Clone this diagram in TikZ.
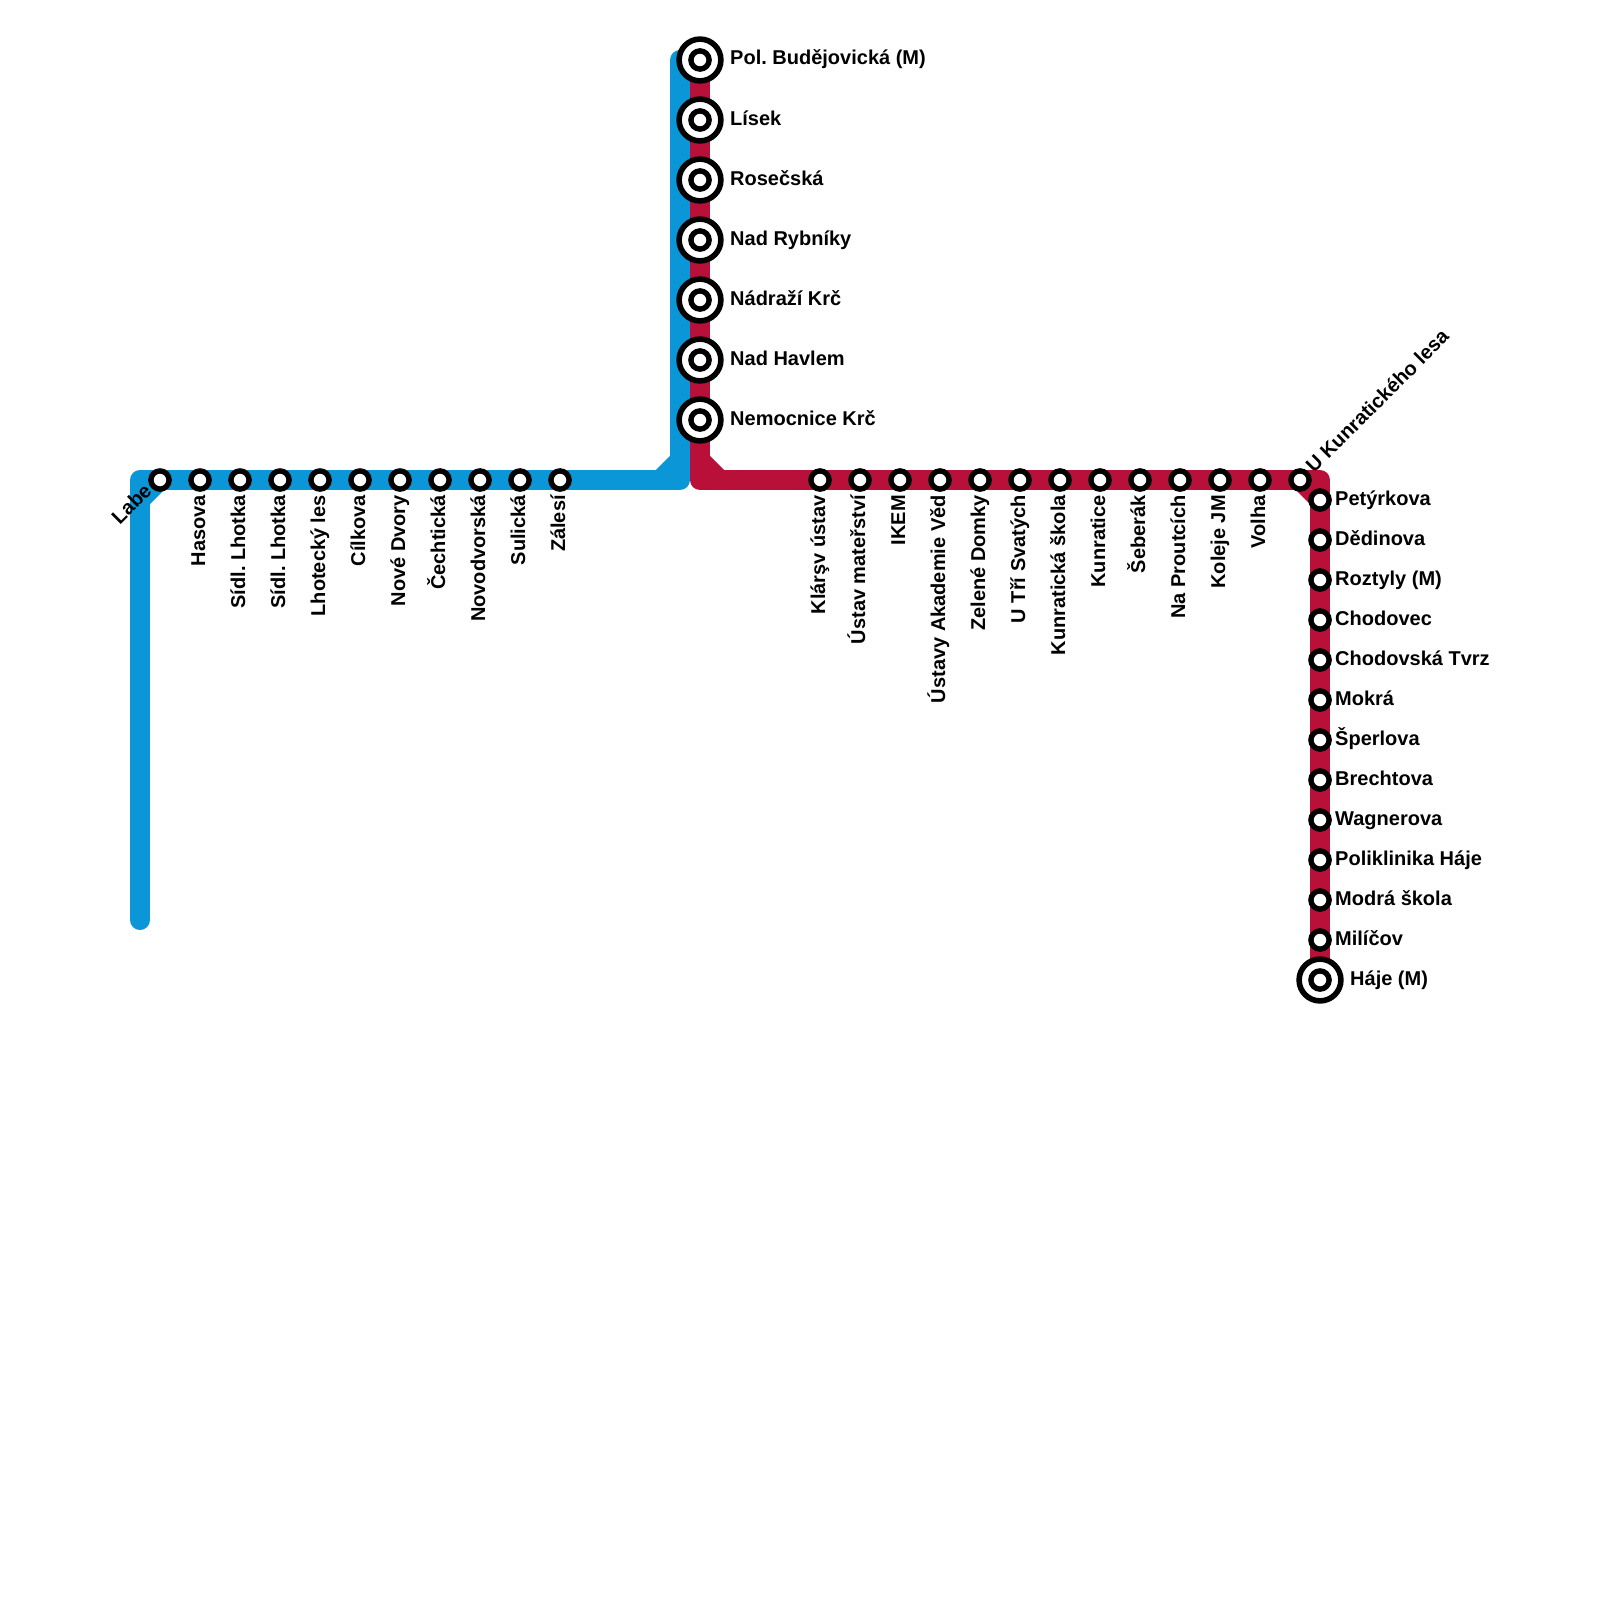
\documentclass[tikz,border=0pt]{standalone}
\usepackage{fontspec}
\setmainfont{Liberation Sans}
\usetikzlibrary{backgrounds}

\begin{document}
\frenchspacing
\begin{tikzpicture}[
    x=1pt, y=-1pt,
    stopnode/.style={draw, circle, fill=white, line width=5.4pt, minimum size=18.2pt, inner sep=0pt, outer sep=0pt},
    bigstop/.style={draw, circle, fill=white, line width=5.6pt, minimum size=41.8pt, inner sep=0pt, outer sep=0pt, label={[stopnode]center:{}}},
    stopname/.style={inner sep=0pt, font=\fontsize{20}{24}\selectfont\bfseries},
    eastname/.style={stopname, anchor=base west},
    turned/.style={stopname, anchor=base east, rotate=90},
    blueline/.style={draw=lineblue, line width=20pt, line cap=round, line join=round},
    redline/.style={draw=linered, line width=20pt, line cap=round, line join=round}
]
\definecolor{lineblue}{HTML}{0A96D7}
\definecolor{linered}{HTML}{B9103A}
\useasboundingbox (0,0) rectangle (1600,1600);

% route corners
\coordinate (bluesouth) at (140, 920);
\coordinate (bluewest) at (140, 480);
\coordinate (bluecut) at (140, 500);
\coordinate (bluecorner) at (680, 480);
\coordinate (bluenorth) at (680, 60);
\coordinate (bluecutb) at (660, 480);
\coordinate (bluecutc) at (680, 460);
\coordinate (redcorner) at (700, 480);
\coordinate (redcuta) at (700, 460);
\coordinate (redcutb) at (720, 480);
\coordinate (redeast) at (1320, 480);

% west branch
\node[stopnode] (labe) at (160, 480) {};
\node[stopnode] (hasova) at (200, 480) {};
\node[stopnode] (lhotkaa) at (240, 480) {};
\node[stopnode] (lhotkab) at (280, 480) {};
\node[stopnode] (lhoteckyles) at (320, 480) {};
\node[stopnode] (cilkova) at (360, 480) {};
\node[stopnode] (novedvory) at (400, 480) {};
\node[stopnode] (cechticka) at (440, 480) {};
\node[stopnode] (novodvorska) at (480, 480) {};
\node[stopnode] (sulicka) at (520, 480) {};
\node[stopnode] (zalesi) at (560, 480) {};

\node[stopname, anchor=base east, rotate=45] (labeL) at (153, 492) {Labe};
\node[turned] (hasovaL) at (205, 495) {Hasova};
\node[turned] (lhotkaaL) at (245, 495) {Sídl. Lhotka};
\node[turned] (lhotkabL) at (285, 495) {Sídl. Lhotka};
\node[turned] (lhoteckylesL) at (325, 495) {Lhotecký les};
\node[turned] (cilkovaL) at (365, 495) {Cílkova};
\node[turned] (novedvoryL) at (405, 495) {Nové Dvory};
\node[turned] (cechtickaL) at (445, 495) {Čechtická};
\node[turned] (novodvorskaL) at (485, 495) {Novodvorská};
\node[turned] (sulickaL) at (525, 495) {Sulická};
\node[turned] (zalesiL) at (565, 495) {Zálesí};

% north branch
\node[bigstop] (budejovicka) at (700, 60) {};
\node[bigstop] (lisek) at (700, 120) {};
\node[bigstop] (rosecska) at (700, 180) {};
\node[bigstop] (nadrybniky) at (700, 240) {};
\node[bigstop] (nadrazikrc) at (700, 300) {};
\node[bigstop] (nadhavlem) at (700, 360) {};
\node[bigstop] (nemocnicekrc) at (700, 420) {};

\node[eastname] (budejovickaL) at (730, 65) {Pol. Budějovická (M)};
\node[eastname] (lisekL) at (730, 125) {Lísek};
\node[eastname] (rosecskaL) at (730, 185) {Rosečská};
\node[eastname] (nadrybnikyL) at (730, 245) {Nad Rybníky};
\node[eastname] (nadrazikrcL) at (730, 305) {Nádraží Krč};
\node[eastname] (nadhavlemL) at (730, 365) {Nad Havlem};
\node[eastname] (nemocnicekrcL) at (730, 425) {Nemocnice Krč};

% east branch
\node[stopnode] (klaruvustav) at (820, 480) {};
\node[stopnode] (materstvi) at (860, 480) {};
\node[stopnode] (ikem) at (900, 480) {};
\node[stopnode] (akademie) at (940, 480) {};
\node[stopnode] (zelenedomky) at (980, 480) {};
\node[stopnode] (trisvatych) at (1020, 480) {};
\node[stopnode] (kunratskola) at (1060, 480) {};
\node[stopnode] (kunratice) at (1100, 480) {};
\node[stopnode] (seberak) at (1140, 480) {};
\node[stopnode] (naproutcich) at (1180, 480) {};
\node[stopnode] (kolejejm) at (1220, 480) {};
\node[stopnode] (volha) at (1260, 480) {};
\node[stopnode] (kunratlesa) at (1300, 480) {};

\node[turned] (klaruvustavL) at (825, 495) {Klárşv ústav};
\node[turned] (materstviL) at (865, 495) {Ústav mateřství};
\node[turned] (ikemL) at (905, 495) {IKEM};
\node[turned] (akademieL) at (945, 495) {Ústavy Akademie Věd};
\node[turned] (zelenedomkyL) at (985, 495) {Zelené Domky};
\node[turned] (trisvatychL) at (1025, 495) {U Tří Svatých};
\node[turned] (kunratskolaL) at (1065, 495) {Kunratická škola};
\node[turned] (kunraticeL) at (1105, 495) {Kunratice};
\node[turned] (seberakL) at (1145, 495) {Šeberák};
\node[turned] (naproutcichL) at (1185, 495) {Na Proutcích};
\node[turned] (kolejejmL) at (1225, 495) {Koleje JM};
\node[turned] (volhaL) at (1265, 495) {Volha};
\node[stopname, anchor=base west, rotate=45] (kunratlesaL) at (1314, 474) {U Kunratického lesa};

% south branch
\node[stopnode] (petyrkova) at (1320, 500) {};
\node[stopnode] (dedinova) at (1320, 540) {};
\node[stopnode] (roztyly) at (1320, 580) {};
\node[stopnode] (chodovec) at (1320, 620) {};
\node[stopnode] (chodovskatvrz) at (1320, 660) {};
\node[stopnode] (mokra) at (1320, 700) {};
\node[stopnode] (sperlova) at (1320, 740) {};
\node[stopnode] (brechtova) at (1320, 780) {};
\node[stopnode] (wagnerova) at (1320, 820) {};
\node[stopnode] (poliklinika) at (1320, 860) {};
\node[stopnode] (modraskola) at (1320, 900) {};
\node[stopnode] (milicov) at (1320, 940) {};
\node[bigstop] (haje) at (1320, 980) {};

\node[eastname] (petyrkovaL) at (1335, 505) {Petýrkova};
\node[eastname] (dedinovaL) at (1335, 545) {Dědinova};
\node[eastname] (roztylyL) at (1335, 585) {Roztyly (M)};
\node[eastname] (chodovecL) at (1335, 625) {Chodovec};
\node[eastname] (chodovskatvrzL) at (1335, 665) {Chodovská Tvrz};
\node[eastname] (mokraL) at (1335, 705) {Mokrá};
\node[eastname] (sperlovaL) at (1335, 745) {Šperlova};
\node[eastname] (brechtovaL) at (1335, 785) {Brechtova};
\node[eastname] (wagnerovaL) at (1335, 825) {Wagnerova};
\node[eastname] (poliklinikaL) at (1335, 865) {Poliklinika Háje};
\node[eastname] (modraskolaL) at (1335, 905) {Modrá škola};
\node[eastname] (milicovL) at (1335, 945) {Milíčov};
\node[eastname] (hajeL) at (1350, 985) {Háje (M)};

\begin{scope}[on background layer]
\draw[blueline] (bluesouth) -- (bluewest) -- (labe.center);
\draw[blueline] (bluecut) -- (labe.center);
\draw[blueline] (labe.center) -- (zalesi.center) -- (bluecorner) -- (bluenorth);
\draw[blueline] (bluecutb) -- (bluecutc);
\draw[redline] (budejovicka.center) -- (redcorner) -- (klaruvustav.center);
\draw[redline] (redcuta) -- (redcutb);
\draw[redline] (klaruvustav.center) -- (kunratlesa.center) -- (redeast) -- (haje.center);
\draw[redline] (kunratlesa.center) -- (petyrkova.center);
\end{scope}
\end{tikzpicture}
\end{document}
